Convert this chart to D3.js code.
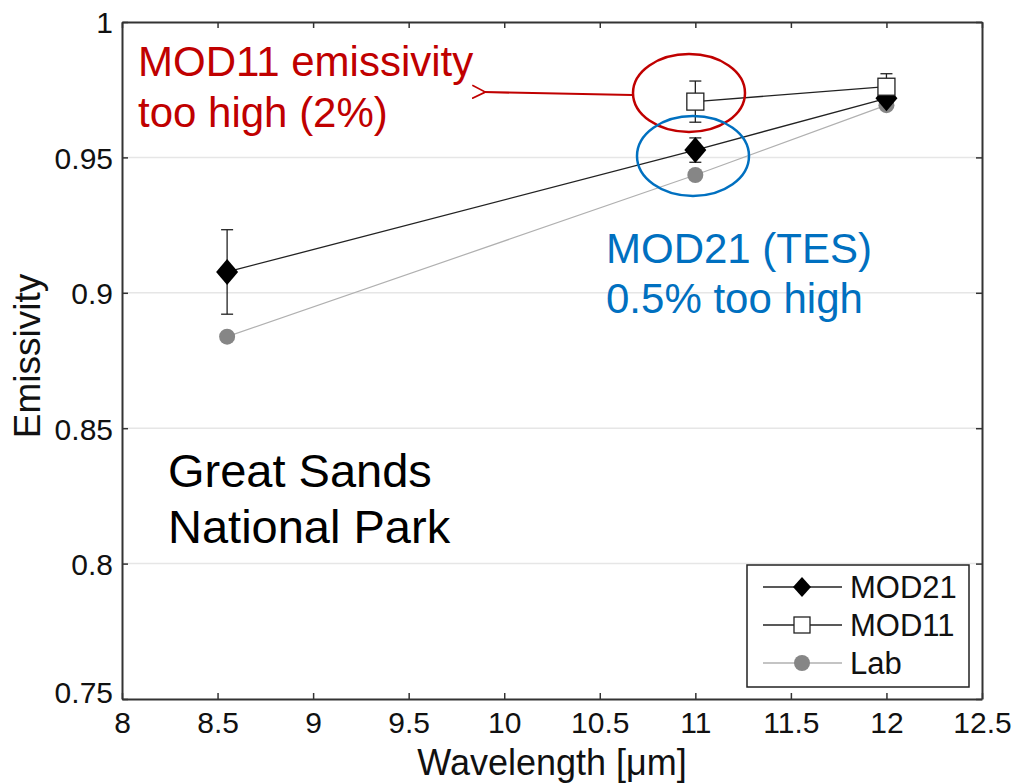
<!DOCTYPE html>
<html lang="en">
<head>
<meta charset="utf-8">
<title>Great Sands emissivity</title>
<script src="https://cdn.jsdelivr.net/npm/d3@7"></script>
<style>
  body { margin: 0; background: #fff; }
  svg { font-family: "Liberation Sans", Arial, sans-serif; }
  .axis text { font-size: 30px; fill: #111; }
</style>
</head>
<body>
<script>
// wavelengths [um]
var wavelengthsMod21 = [8.55, 11, 12];
var wavelengthsMod11 = [11, 12];
var wavelengthsLab = [8.55, 11, 12];

// emissivity values
var mod21 = [0.9077, 0.9527, 0.9718];
var mod21Err = [0.0156, 0.0045, 0.002];
var mod11 = [0.9706, 0.9761];
var mod11Err = [0.0076, 0.0048];
var lab = [0.8838, 0.9435, 0.9693];

var xTicks = [8, 8.5, 9, 9.5, 10, 10.5, 11, 11.5, 12, 12.5];
var yTicks = [0.75, 0.8, 0.85, 0.9, 0.95, 1];

var w = 1014, h = 784;
var plotLeft = 122, plotRight = 982, plotTop = 22, plotBottom = 699;

var svg = d3.select("body").append("svg")
  .attr("width", w)
  .attr("height", h);

var xScale = d3.scaleLinear().domain([8, 12.5]).range([plotLeft, plotRight]);
var yScale = d3.scaleLinear().domain([0.75, 1]).range([plotBottom, plotTop]);

// light grid lines
svg.append("g").selectAll("line")
  .data(yTicks.slice(1, -1))
  .enter().append("line")
  .attr("x1", plotLeft).attr("x2", plotRight)
  .attr("y1", function(d) { return yScale(d); })
  .attr("y2", function(d) { return yScale(d); })
  .attr("stroke", "#e6e6e6")
  .attr("stroke-width", 1.5);

// axes, ticks pointing inward like matlab
var fmt = function(d) { return String(d); };
var xAxis = d3.axisBottom(xScale).tickValues(xTicks).tickSizeInner(-6).tickSizeOuter(0).tickPadding(10).tickFormat(fmt);
var yAxis = d3.axisLeft(yScale).tickValues(yTicks).tickSizeInner(-6).tickSizeOuter(0).tickPadding(10).tickFormat(fmt);
var xAxisTop = d3.axisTop(xScale).tickValues(xTicks).tickSizeInner(-6).tickSizeOuter(0).tickFormat("");
var yAxisRight = d3.axisRight(yScale).tickValues(yTicks).tickSizeInner(-6).tickSizeOuter(0).tickFormat("");

var gx = svg.append("g").attr("class", "axis").attr("transform", "translate(0," + plotBottom + ")").call(xAxis);
var gy = svg.append("g").attr("class", "axis").attr("transform", "translate(" + plotLeft + ",0)").call(yAxis);
var gxt = svg.append("g").attr("class", "axis").attr("transform", "translate(0," + plotTop + ")").call(xAxisTop);
var gyr = svg.append("g").attr("class", "axis").attr("transform", "translate(" + plotRight + ",0)").call(yAxisRight);

[gx, gy, gxt, gyr].forEach(function(g) {
  g.attr("font-size", 30).attr("font-family", null);
  g.select(".domain").attr("stroke", "#333").attr("stroke-width", 2);
  g.selectAll(".tick line").attr("stroke", "#333").attr("stroke-width", 1.5);
  g.selectAll(".tick text").attr("fill", "#111").attr("font-size", 30);
});
gx.selectAll(".tick text").attr("dy", "0.8em");
gy.selectAll(".tick text").attr("dy", "0.36em").attr("x", -9);
gy.selectAll(".tick").filter(function(d) { return d === 0.75; }).select("text").attr("dy", "0.1em");

// axis labels
svg.append("text")
  .attr("x", 552)
  .attr("y", 775)
  .attr("text-anchor", "middle")
  .attr("font-size", "36px")
  .attr("fill", "#111")
  .text("Wavelength [\u03bcm]");

svg.append("text")
  .attr("transform", "translate(40,356) rotate(-90)")
  .attr("text-anchor", "middle")
  .attr("font-size", "37px")
  .attr("fill", "#111")
  .text("Emissivity");

function series(xs, ys) {
  return xs.map(function(x, i) { return { x: x, y: ys[i] }; });
}
var line = d3.line()
  .x(function(d) { return xScale(d.x); })
  .y(function(d) { return yScale(d.y); });

var labData = series(wavelengthsLab, lab);
var mod21Data = series(wavelengthsMod21, mod21).map(function(d, i) { d.e = mod21Err[i]; return d; });
var mod11Data = series(wavelengthsMod11, mod11).map(function(d, i) { d.e = mod11Err[i]; return d; });

// lab line
svg.append("path").attr("d", line(labData))
  .attr("fill", "none").attr("stroke", "#b0b0b0").attr("stroke-width", 1.2);

// lines
svg.append("path").attr("d", line(mod21Data))
  .attr("fill", "none").attr("stroke", "#222").attr("stroke-width", 1.3);
svg.append("path").attr("d", line(mod11Data))
  .attr("fill", "none").attr("stroke", "#222").attr("stroke-width", 1.3);

// error bars
function errorBars(data) {
  var g = svg.append("g").attr("stroke", "#222").attr("stroke-width", 1.3);
  data.forEach(function(d) {
    var x = xScale(d.x), y1 = yScale(d.y + d.e), y2 = yScale(d.y - d.e);
    g.append("line").attr("x1", x).attr("x2", x).attr("y1", y1).attr("y2", y2);
    g.append("line").attr("x1", x - 6).attr("x2", x + 6).attr("y1", y1).attr("y2", y1);
    g.append("line").attr("x1", x - 6).attr("x2", x + 6).attr("y1", y2).attr("y2", y2);
  });
}
errorBars(mod21Data);
errorBars(mod11Data);

svg.selectAll(".lab").data(labData).enter().append("circle")
  .attr("class", "lab")
  .attr("cx", function(d) { return xScale(d.x); })
  .attr("cy", function(d) { return yScale(d.y); })
  .attr("r", 8)
  .attr("fill", "#868686");

svg.selectAll(".mod21").data(mod21Data).enter().append("path")
  .attr("class", "mod21")
  .attr("transform", function(d) { return "translate(" + xScale(d.x) + "," + yScale(d.y) + ")"; })
  .attr("d", "M0,-13L11,0L0,13L-11,0Z")
  .attr("fill", "#000");

svg.selectAll(".mod11").data(mod11Data).enter().append("rect")
  .attr("class", "mod11")
  .attr("x", function(d) { return xScale(d.x) - 8.5; })
  .attr("y", function(d) { return yScale(d.y) - 8.5; })
  .attr("width", 17).attr("height", 17)
  .attr("fill", "#fff").attr("stroke", "#222").attr("stroke-width", 1.3);

// legend
var legend = svg.append("g");
legend.append("rect")
  .attr("x", 747).attr("y", 565).attr("width", 222).attr("height", 122)
  .attr("fill", "#fff").attr("stroke", "#222").attr("stroke-width", 1.5);

var legendItems = [
  { name: "MOD21", stroke: "#222" },
  { name: "MOD11", stroke: "#222" },
  { name: "Lab", stroke: "#b0b0b0" }
];
legendItems.forEach(function(item, i) {
  var y = 587 + i * 38;
  legend.append("line").attr("x1", 763).attr("x2", 842).attr("y1", y).attr("y2", y)
    .attr("stroke", item.stroke).attr("stroke-width", 1.3);
  if (item.name === "MOD21") {
    legend.append("path").attr("transform", "translate(802," + y + ")")
      .attr("d", "M0,-10L9,0L0,10L-9,0Z").attr("fill", "#000");
  } else if (item.name === "MOD11") {
    legend.append("rect").attr("x", 794).attr("y", y - 8).attr("width", 16).attr("height", 16)
      .attr("fill", "#fff").attr("stroke", "#222").attr("stroke-width", 1.3);
  } else {
    legend.append("circle").attr("cx", 802).attr("cy", y).attr("r", 8).attr("fill", "#868686");
  }
  legend.append("text").attr("x", 850).attr("y", y + 11)
    .attr("font-size", "31px").attr("fill", "#111").text(item.name);
});

// annotations
var red = "#c00000", blue = "#0070c0";
svg.append("ellipse").attr("cx", 689).attr("cy", 93).attr("rx", 56).attr("ry", 39)
  .attr("fill", "none").attr("stroke", red).attr("stroke-width", 2.5);
svg.append("ellipse").attr("cx", 693).attr("cy", 156).attr("rx", 56).attr("ry", 40)
  .attr("fill", "none").attr("stroke", blue).attr("stroke-width", 2.5);

svg.append("defs").append("marker")
  .attr("id", "arrow").attr("viewBox", "0 0 10 10").attr("refX", 1).attr("refY", 5)
  .attr("markerWidth", 6).attr("markerHeight", 7).attr("orient", "auto-start-reverse")
  .append("path").attr("d", "M10,0L0,5L10,10").attr("fill", "none").attr("stroke", red).attr("stroke-width", 1.3);
svg.append("line").attr("x1", 632).attr("y1", 95).attr("x2", 484).attr("y2", 92)
  .attr("stroke", red).attr("stroke-width", 2.2).attr("marker-end", "url(#arrow)");

function multiline(x, y, lines, color, size, gap) {
  var t = svg.append("text").attr("x", x).attr("y", y).attr("font-size", size + "px").attr("fill", color);
  lines.forEach(function(s, i) {
    t.append("tspan").attr("x", x).attr("dy", i === 0 ? 0 : gap).text(s);
  });
}
multiline(138, 76, ["MOD11 emissivity", "too high (2%)"], red, 42, 51);
multiline(606, 263, ["MOD21 (TES)", "0.5% too high"], blue, 42, 50);
multiline(168, 487, ["Great Sands", "National Park"], "#000", 47, 56);
</script>
</body>
</html>
